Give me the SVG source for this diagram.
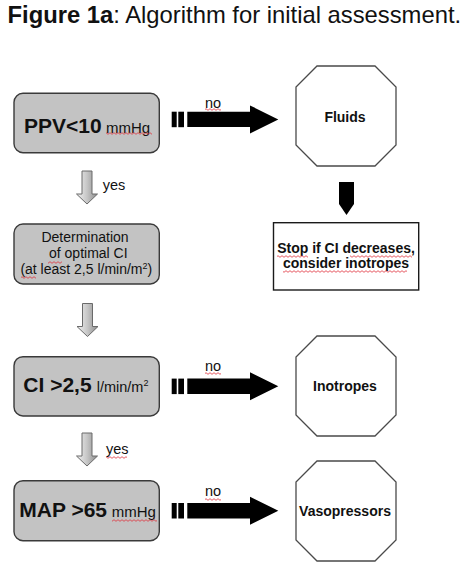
<svg xmlns="http://www.w3.org/2000/svg" xmlns:xlink="http://www.w3.org/1999/xlink" width="468" height="569" viewBox="0 0 468 569">
  <style>
    .t { font-family: "Liberation Sans", Arial, sans-serif; fill: #111; }
    .b { font-weight: bold; }
    .box { fill: #c3c3c3; stroke: #3a3a3a; stroke-width: 1.4; }
    .oct { fill: #ffffff; stroke: #4a4a4a; stroke-width: 1.3; }
    .rect { fill: #ffffff; stroke: #1a1a1a; stroke-width: 1.4; }
    .blk { fill: #000; }
    .gray { fill: url(#gg); stroke: #6a6a6a; stroke-width: 1; }
    .sq { fill: url(#sqp); }
  </style>
  <defs>
    <linearGradient id="gg" x1="0" y1="0" x2="1" y2="0">
      <stop offset="0" stop-color="#f2f2f2"/>
      <stop offset="0.5" stop-color="#c6c6c6"/>
      <stop offset="1" stop-color="#8c8c8c"/>
    </linearGradient>
    <pattern id="sqp" x="0" y="0" width="4" height="3" patternUnits="userSpaceOnUse">
      <path d="M0 2.3 L2 0.7 L4 2.3" fill="none" stroke="#e0303a" stroke-width="0.8"/>
    </pattern>
    <g id="harrow">
      <rect x="171.7" y="-7.7" width="5" height="15.5"/>
      <rect x="178.3" y="-7.7" width="5.7" height="15.5"/>
      <path d="M187.3 -7.7 H250 V-14 L278.3 0 L250 14 V7.7 H187.3 Z"/>
    </g>
    <path id="darrow" d="M-5 0 H5 V23 H10.5 L0 33 L-10.5 23 H-5 Z"/>
  </defs>

  <text class="t" x="7.5" y="23.3" font-size="23.8"><tspan class="b">Figure 1a</tspan>: Algorithm for initial assessment.</text>

  <g id="connectors">
    <use xlink:href="#harrow" href="#harrow" y="119.4" class="blk"/>
    <use xlink:href="#harrow" href="#harrow" y="386.3" class="blk"/>
    <use xlink:href="#harrow" href="#harrow" y="510.7" class="blk"/>
    <path class="blk" d="M339 182 H354 V204 L346.5 215 L339 204 Z"/>
    <use xlink:href="#darrow" href="#darrow" x="87" y="171" class="gray"/>
    <use xlink:href="#darrow" href="#darrow" x="87.5" y="303.5" class="gray"/>
    <use xlink:href="#darrow" href="#darrow" x="87" y="433" class="gray"/>
    <text class="t" x="205" y="108" font-size="14.5">no</text>
    <rect class="sq" x="205" y="108" width="16" height="3"/>
    <text class="t" x="205" y="370.7" font-size="14.5">no</text>
    <rect class="sq" x="205" y="372" width="16" height="3"/>
    <text class="t" x="205" y="495.5" font-size="14.5">no</text>
    <rect class="sq" x="205" y="498" width="16" height="3"/>
    <text class="t" x="102.7" y="190" font-size="14.5">yes</text>
    <text class="t" x="106" y="454" font-size="14.5">yes</text>
    <rect class="sq" x="106" y="456" width="21" height="3"/>
  </g>

  <g id="node-ppv">
    <rect class="box" x="14" y="93.3" width="145.3" height="59.4" rx="9"/>
    <text class="t b" x="24" y="132.7" font-size="21">PPV&lt;10</text>
    <text class="t" x="106" y="132.7" font-size="15">mmHg</text>
    <rect class="sq" x="106" y="132" width="46" height="3"/>
  </g>

  <g id="node-fluids">
    <polygon class="oct" points="317,66 375,66 396,87 396,145 375,166 317,166 296,145 296,87"/>
    <text class="t b" x="345" y="121.7" font-size="14" text-anchor="middle">Fluids</text>
  </g>

  <g id="node-stop">
    <rect class="rect" x="273.5" y="222.7" width="145.2" height="67.3"/>
    <text class="t b" x="346" y="253.3" font-size="14" text-anchor="middle">Stop if CI decreases,</text>
    <text class="t b" x="346" y="268.3" font-size="14" text-anchor="middle">consider inotropes</text>
    <rect class="sq" x="277" y="255" width="31" height="3"/>
    <rect class="sq" x="350" y="255" width="62" height="3"/>
    <rect class="sq" x="283" y="270" width="124" height="3"/>
  </g>

  <g id="node-determination">
    <rect class="box" x="14" y="224" width="145.3" height="60" rx="9"/>
    <text class="t" x="85" y="242.3" font-size="14" text-anchor="middle">Determination</text>
    <text class="t" x="88.3" y="258.3" font-size="14" text-anchor="middle">of optimal CI</text>
    <text class="t" x="86.3" y="274" font-size="14" text-anchor="middle">(at least 2,5 l/min/m<tspan font-size="9" dy="-5">2</tspan><tspan dy="5">)</tspan></text>
    <rect class="sq" x="48" y="261" width="14" height="3"/>
    <rect class="sq" x="21" y="276" width="15" height="3"/>
  </g>

  <g id="node-ci">
    <rect class="box" x="14" y="356.7" width="145.3" height="59.3" rx="9"/>
    <text class="t b" x="23.3" y="391.7" font-size="21">CI &gt;2,5</text>
    <text class="t" x="96.7" y="391.7" font-size="14.5">l/min/m<tspan font-size="9" dy="-6">2</tspan></text>
  </g>

  <g id="node-inotropes">
    <polygon class="oct" points="317,336 375,336 396,357 396,415 375,436 317,436 296,415 296,357"/>
    <text class="t b" x="345" y="390.5" font-size="14" text-anchor="middle">Inotropes</text>
  </g>

  <g id="node-map">
    <rect class="box" x="14" y="480.7" width="145.3" height="60" rx="9"/>
    <text class="t b" x="19.3" y="517.3" font-size="21">MAP &gt;65</text>
    <text class="t" x="111.7" y="517.3" font-size="15">mmHg</text>
    <rect class="sq" x="112" y="519" width="45" height="3"/>
  </g>

  <g id="node-vasopressors">
    <polygon class="oct" points="317,461 375,461 396,482 396,540 375,561 317,561 296,540 296,482"/>
    <text class="t b" x="345" y="516.3" font-size="14" text-anchor="middle">Vasopressors</text>
  </g>
</svg>
